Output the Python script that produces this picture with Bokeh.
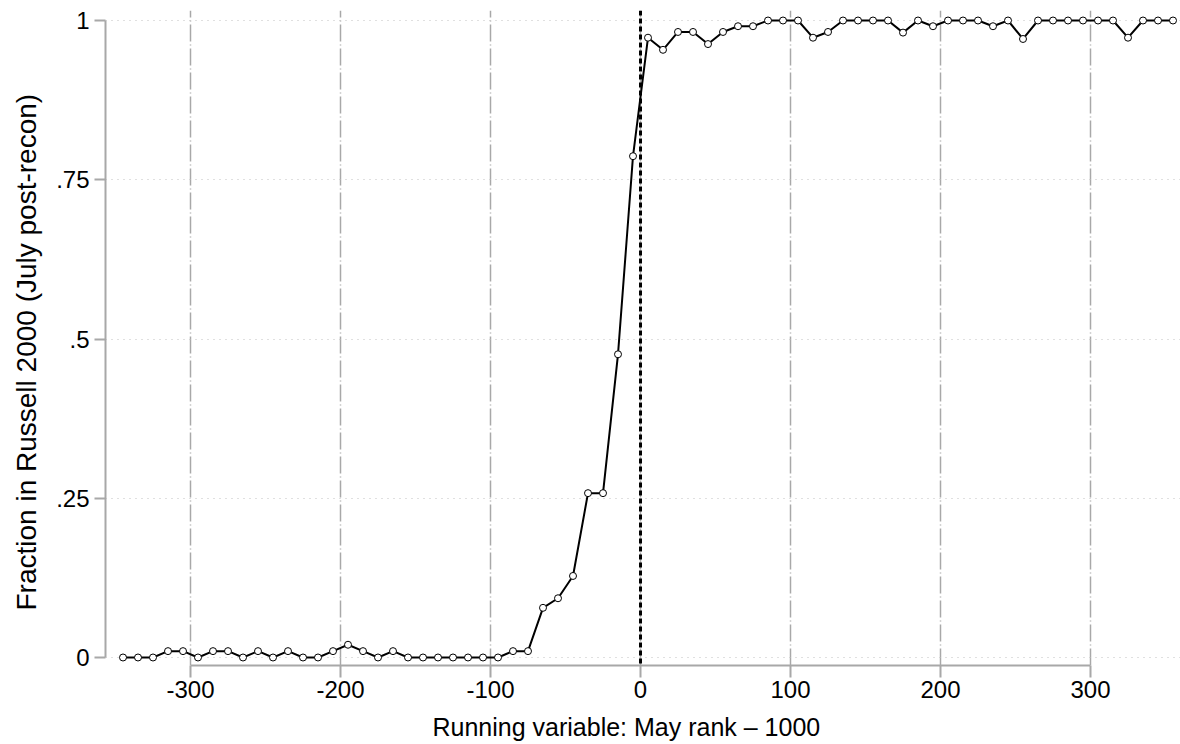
from bokeh.plotting import figure
from bokeh.models import FixedTicker, Span, Range1d, ColumnDataSource, Title
from bokeh.embed import file_html
from bokeh.resources import INLINE

# Bin centers (May rank - 1000) and fraction in Russell 2000
x_vals = list(range(-345, 356, 10))
neg_far = [0, 0, 0, .01, .01, 0, .01, .01, 0, .01, 0, .01, 0, 0, .01, .02, .01, 0, .01]  # -345..-165
neg_mid = [0, 0, 0, 0, 0, 0, 0, .01, .01]                                               # -155..-75
neg_near = [.078, .093, .128, .258, .258, .476, .787]                                   # -65..-5
pos_near = [.973, .954, .982, .982, .963, .982, .991, .991, 1, 1, 1, .973, .982, 1, 1, 1, 1]  # 5..165
pos_far = [.981, 1, .991, 1, 1, 1, .991, 1, .971, 1, 1, 1, 1, 1, 1, .973, 1, 1, 1]       # 175..355
frac = neg_far + neg_mid + neg_near + pos_near + pos_far

x_ticks = [-300, -200, -100, 0, 100, 200, 300]
x_tick_labels = ["-300", "-200", "-100", "0", "100", "200", "300"]
y_ticks = [0, 0.25, 0.5, 0.75, 1]
y_tick_labels = ["0", ".25", ".5", ".75", "1"]

FONT = "Liberation Sans"
FS = "24px"

p = figure(frame_width=1075, frame_height=655,
           min_border_left=105, min_border_right=0, min_border_top=10, min_border_bottom=79,
           x_range=Range1d(-356.67, 360), y_range=Range1d(-0.01256, 1.0157),
           output_backend="svg", toolbar_location=None)
p.outline_line_color = None
p.background_fill_color = "white"
p.border_fill_color = "white"

src = ColumnDataSource(dict(x=x_vals, y=frac))
p.line("x", "y", source=src, line_color="black", line_width=2)
p.scatter("x", "y", source=src, size=7, fill_color="white", line_color="black", line_width=1)

p.add_layout(Span(location=0, dimension="height", line_color="black",
                  line_width=3, line_dash="5 3"))

# axes
for ax in (p.xaxis[0], p.yaxis[0]):
    ax.axis_line_color = "#a8a8a8"
    ax.axis_line_width = 2
    ax.major_tick_line_color = "#a8a8a8"
    ax.major_tick_line_width = 2
    ax.major_tick_in = 0
    ax.minor_tick_line_color = None
    ax.major_label_text_font = FONT
    ax.major_label_text_font_size = FS
    ax.major_label_text_color = "black"

p.xaxis.ticker = FixedTicker(ticks=x_ticks)
p.xaxis.bounds = (-300, 300)
p.xaxis.major_tick_out = 12
p.xaxis.major_label_standoff = 3
p.xaxis.major_label_overrides = {t: l for t, l in zip(x_ticks, x_tick_labels)}

p.yaxis.ticker = FixedTicker(ticks=y_ticks)
p.yaxis.bounds = (0, 1)
p.yaxis.major_tick_out = 11
p.yaxis.major_label_standoff = 5
p.yaxis.major_label_overrides = {t: l for t, l in zip(y_ticks, y_tick_labels)}

xtitle = Title(text="Running variable: May rank \u2013 1000", align="left",
               offset=327, text_font=FONT, text_font_size="25px",
               text_font_style="normal", text_color="black", standoff=20)
p.add_layout(xtitle, "below")

ytitle = Title(text="Fraction in Russell 2000 (July post-recon)", align="left",
               offset=55, text_font=FONT, text_font_size="28px",
               text_font_style="normal", text_color="black", standoff=20,
               vertical_align="top")
p.add_layout(ytitle, "left")

# grids
p.xgrid.ticker = FixedTicker(ticks=x_ticks)
p.xgrid.grid_line_color = "#a8a8a8"
p.xgrid.grid_line_width = 1.5
p.xgrid.grid_line_dash = "17 3 1 3"
p.ygrid.ticker = FixedTicker(ticks=y_ticks)
p.ygrid.grid_line_color = "#c0c0c0"
p.ygrid.grid_line_width = 1
p.ygrid.grid_line_dash = "1 5"

open("out.html", "w").write(file_html(p, INLINE))
